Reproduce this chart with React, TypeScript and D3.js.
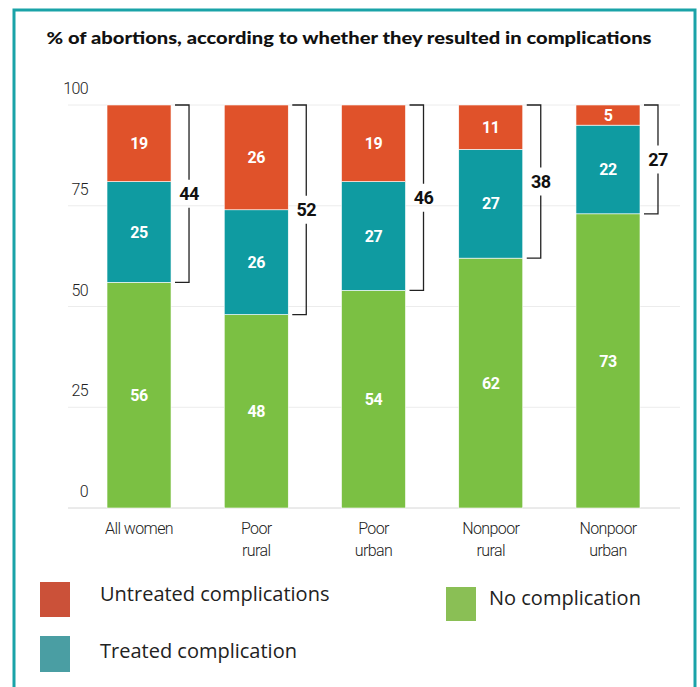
import React from "react";
import * as d3 from "d3";

const categories: string[][] = [["All women"], ["Poor", "rural"], ["Poor", "urban"], ["Nonpoor", "rural"], ["Nonpoor", "urban"]];
const noComplication = [56, 48, 54, 62, 73];
const treated = [25, 26, 27, 27, 22];
const untreated = [19, 26, 19, 11, 5];
const complicationTotals = [44, 52, 46, 38, 27];
const yTicks = [0, 25, 50, 75, 100];
const title = "% of abortions, according to whether they resulted in complications";

const C_UNTREATED = "#e0522a";
const C_TREATED = "#0f9ba1";
const C_NONE = "#7bc043";

export default function App() {
  const W = 700, H = 687;
  const y = d3.scaleLinear().domain([0, 100]).range([508, 105]);
  const x = d3.scaleBand<number>().domain(d3.range(categories.length)).range([77.7, 669.3]).paddingInner(0.454).paddingOuter(0.25);
  const bw = x.bandwidth();

  const series = [
    { key: "none", vals: noComplication, color: C_NONE },
    { key: "treated", vals: treated, color: C_TREATED },
    { key: "untreated", vals: untreated, color: C_UNTREATED },
  ];
  const stackData = categories.map((_, i) => ({ none: noComplication[i], treated: treated[i], untreated: untreated[i] }));
  const stacked = d3.stack<any>().keys(series.map(s => s.key))(stackData);

  const narrow = "Roboto, sans-serif";

  return (
    <div style={{ position: "absolute", left: 0, top: 0, width: W, height: H, background: "#fff" }}>
      <svg width={W} height={H} style={{ display: "block" }}>
        <rect x={0} y={0} width={W} height={H} fill="#fff" />
        <rect x={14} y={10} width={681} height={H + 10} fill="none" stroke="#1aa3a8" strokeWidth={3} />
        <text x={349} y={44} textAnchor="middle" fontFamily="Lato, sans-serif" fontWeight={900} fontSize={17.5} fill="#111" textLength={605} lengthAdjust="spacingAndGlyphs">{title}</text>

        {yTicks.map(t => (
          <g key={t}>
            <line x1={68} x2={680} y1={y(t)} y2={y(t)} stroke={t === 0 ? "#d6d6d6" : "#ececec"} strokeWidth={1} />
            <text x={88} y={y(t) - 11} textAnchor="end" fontFamily={narrow} fontWeight={300} letterSpacing={-0.6} fontSize={16} fill="#222">{t}</text>
          </g>
        ))}

        {stacked.map((layer, li) => (
          <g key={series[li].key}>
            {layer.map((d, i) => {
              const y0 = y(d[1]), y1 = y(d[0]);
              const h = y1 - y0;
              return (
                <g key={i}>
                  <rect x={x(i)} y={y0} width={bw} height={h} fill={series[li].color} stroke="#fff" strokeWidth={0.6} />
                  <text x={(x(i) as number) + bw / 2} y={(y0 + y1) / 2} dy="0.36em" textAnchor="middle" fontFamily={narrow} fontWeight={700} letterSpacing={-0.5} fontSize={16} fill="#fff">{series[li].vals[i]}</text>
                </g>
              );
            })}
          </g>
        ))}

        {complicationTotals.map((tot, i) => {
          const bx = (x(i) as number) + bw;
          const top = y(100), bot = y(noComplication[i]);
          const mid = (top + bot) / 2;
          const vx = bx + 18;
          return (
            <g key={i}>
              <path d={`M${bx + 4},${top}H${vx}V${mid - 14}M${vx},${mid + 14}V${bot}H${bx + 4}`} fill="none" stroke="#222" strokeWidth={1.3} />
              <text x={vx} y={mid} dy="0.36em" textAnchor="middle" fontFamily={narrow} fontWeight={700} letterSpacing={-0.5} fontSize={18} fill="#111">{tot}</text>
            </g>
          );
        })}

        {categories.map((lines, i) => (
          <text key={i} x={(x(i) as number) + bw / 2} y={534} textAnchor="middle" fontFamily={narrow} fontWeight={300} letterSpacing={-0.6} fontSize={16} fill="#222">
            {lines.map((l, j) => (
              <tspan key={j} x={(x(i) as number) + bw / 2} dy={j === 0 ? 0 : 22}>{l}</tspan>
            ))}
          </text>
        ))}

        <rect x={40} y={582} width={30} height={35} fill="#cb5139" />
        <text x={100} y={601} fontFamily="'Open Sans', sans-serif" fontSize={20} fill="#222">Untreated complications</text>
        <rect x={40} y={636} width={30} height={36} fill="#4a9ea3" />
        <text x={100} y={658} fontFamily="'Open Sans', sans-serif" fontSize={20} fill="#222">Treated complication</text>
        <rect x={446} y={587} width={30} height={34} fill="#8abf55" />
        <text x={489} y={605} fontFamily="'Open Sans', sans-serif" fontSize={20} fill="#222">No complication</text>
      </svg>
    </div>
  );
}
